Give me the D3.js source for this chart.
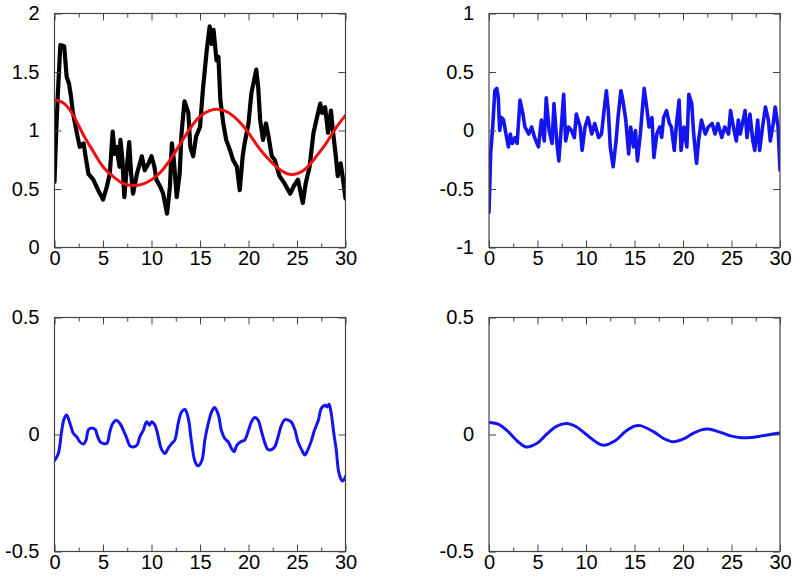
<!DOCTYPE html>
<html>
<head>
<meta charset="utf-8">
<script src="https://cdn.jsdelivr.net/npm/d3@7"></script>
<style>
  body { margin: 0; background: #fff; }
  svg { display: block; }
</style>
</head>
<body>
<svg id="chart" width="800" height="587"></svg>
<script>
// ---------- data ----------
const xTicks = [0, 5, 10, 15, 20, 25, 30];
const xMinorTicks = [2.5, 7.5, 12.5, 17.5, 22.5, 27.5];
const yTicksA = [0, 0.5, 1, 1.5, 2];
const yTicksB = [-1, -0.5, 0, 0.5, 1];
const yTicksC = [-0.5, 0, 0.5];

// Panel A: noisy black series
const blackT = [0,0.17,0.35,0.6,1.0,1.25,1.5,1.7,1.9,2.3,2.6,3.0,3.2,3.5,4.0,4.5,5.0,5.4,5.7,6.0,6.2,6.4,6.7,6.8,7.0,7.2,7.4,7.7,7.9,8.1,8.5,9.0,9.3,9.7,10.0,10.3,10.5,10.9,11.2,11.6,11.9,12.1,12.3,12.6,12.9,13.1,13.4,13.8,14.0,14.3,14.6,15.0,15.3,15.7,16.0,16.2,16.4,16.7,16.9,17.1,17.4,17.7,18.1,18.4,18.8,19.1,19.4,19.6,20.0,20.3,20.8,21.0,21.2,21.5,21.8,22.0,22.4,22.7,23.2,23.7,24.3,24.7,25.1,25.6,25.9,26.3,26.7,27.0,27.4,27.6,27.9,28.2,28.5,28.7,29.0,29.2,29.5,29.7,30];
const blackV = [0.56,0.98,1.32,1.73,1.72,1.46,1.40,1.29,1.15,0.98,0.86,0.89,0.78,0.63,0.58,0.49,0.41,0.52,0.63,0.99,0.80,0.86,0.69,0.92,0.75,0.43,0.63,0.90,0.63,0.46,0.63,0.78,0.66,0.72,0.78,0.69,0.58,0.52,0.46,0.29,0.52,0.89,0.75,0.43,0.63,0.98,1.25,1.15,0.86,0.78,0.95,1.03,1.35,1.69,1.89,1.74,1.86,1.60,1.63,1.26,1.06,0.92,0.83,0.75,0.69,0.49,0.78,0.89,1.06,1.32,1.52,1.37,1.09,0.92,1.06,0.98,0.78,0.75,0.61,0.55,0.46,0.53,0.58,0.38,0.55,0.69,0.98,1.09,1.23,1.15,1.20,0.98,1.17,1.00,0.78,0.61,0.72,0.61,0.42];

// Panel A: smooth red curve
const redT = [0,1,2,3,4,5,6,7,8,9,10,11,12,13,14,15,16,17,18,19,20,21,22,23,24,25,26,27,28,29,30];
const redV = [1.26,1.23,1.12,0.96,0.82,0.69,0.61,0.55,0.53,0.54,0.58,0.65,0.76,0.89,1.02,1.12,1.17,1.18,1.15,1.08,0.98,0.86,0.76,0.68,0.63,0.63,0.68,0.78,0.89,1.02,1.13];

// Panel B: noisy blue series
const blueBT = [0,0.17,0.38,0.6,0.8,0.96,1.1,1.3,1.5,1.75,2.0,2.2,2.4,2.7,2.9,3.2,3.5,3.7,4.1,4.4,4.7,5.1,5.4,5.7,5.9,6.2,6.5,6.7,7.0,7.2,7.4,7.7,7.9,8.2,8.5,8.8,9.0,9.4,9.6,9.9,10.2,10.6,10.9,11.3,11.6,11.9,12.1,12.3,12.5,12.8,13.1,13.3,13.6,13.8,14.1,14.4,14.6,14.9,15.1,15.3,15.6,15.8,16.0,16.3,16.5,16.8,17.0,17.3,17.6,17.8,18.0,18.3,18.6,18.8,19.1,19.3,19.6,19.8,20.1,20.4,20.6,20.9,21.1,21.4,21.6,21.9,22.3,22.6,23.0,23.3,23.6,24.0,24.3,24.7,24.9,25.2,25.5,25.7,25.9,26.4,26.6,26.9,27.2,27.4,27.7,27.9,28.2,28.5,28.8,29.0,29.3,29.5,29.8,30];
const blueBV = [-0.70,-0.20,0.03,0.34,0.36,0.28,0.0,0.11,0.09,-0.03,-0.14,-0.03,-0.11,-0.06,-0.11,0.26,0.14,0.03,-0.03,0.03,-0.06,-0.14,0.09,-0.09,0.28,0.0,-0.11,0.23,-0.11,-0.26,-0.03,0.31,-0.09,0.03,0.0,-0.06,0.14,0.03,-0.17,0.03,0.11,-0.03,0.06,-0.06,-0.03,0.20,0.34,0.17,-0.14,-0.31,-0.09,0.11,0.34,0.26,0.09,-0.20,0.03,-0.14,0.0,-0.26,-0.03,0.17,0.36,0.17,0.03,0.11,-0.23,-0.03,0.03,-0.06,0.11,0.17,0.06,0.03,-0.17,0.03,0.26,-0.17,0.03,-0.14,0.31,0.23,-0.03,-0.28,-0.09,0.09,-0.03,0.03,0.06,-0.03,0.06,-0.06,0.03,-0.03,0.17,0.03,-0.09,0.09,-0.03,0.17,-0.06,0.14,-0.09,-0.17,0.09,-0.17,0.03,0.20,0.09,-0.09,0.06,0.20,0.03,-0.34];

// Panel C: smoothed blue series
const blueCT = [0,0.4,0.75,1.0,1.25,1.6,1.95,2.3,2.6,3.0,3.25,3.5,3.8,4.2,4.4,4.7,5.0,5.4,5.7,6.0,6.4,6.75,7.1,7.4,7.8,8.1,8.5,8.8,9.15,9.5,9.8,10.0,10.35,10.7,11.0,11.4,11.7,12.1,12.4,12.75,13.1,13.45,13.8,14.1,14.5,14.8,15.2,15.5,15.85,16.2,16.5,16.9,17.2,17.55,17.9,18.25,18.5,18.8,19.2,19.6,20.0,20.3,20.65,21.0,21.35,21.7,22.0,22.4,22.7,23.05,23.4,23.75,24.1,24.4,24.8,25.1,25.5,25.8,26.1,26.5,26.8,27.2,27.5,27.9,28.1,28.3,28.5,28.8,29.05,29.3,29.6,29.75,30];
const blueCV = [-0.112,-0.08,0.018,0.068,0.083,0.047,0.004,-0.01,-0.031,-0.041,-0.024,0.021,0.028,0.021,-0.003,-0.031,-0.038,-0.038,0.011,0.047,0.061,0.047,0.018,-0.01,-0.05,-0.053,-0.046,-0.01,0.018,0.054,0.04,0.054,0.04,-0.01,-0.06,-0.081,-0.06,-0.038,-0.024,0.047,0.097,0.107,0.068,-0.024,-0.117,-0.134,-0.11,-0.024,0.047,0.097,0.115,0.083,0.018,-0.017,-0.031,-0.06,-0.074,-0.046,-0.031,-0.024,0.018,0.054,0.073,0.061,0.011,-0.038,-0.064,-0.064,-0.053,-0.01,0.04,0.064,0.061,0.054,0.018,-0.031,-0.067,-0.088,-0.067,-0.024,0.018,0.061,0.111,0.125,0.118,0.129,0.097,0.004,-0.067,-0.16,-0.195,-0.198,-0.18];

// Panel D: damped oscillation
const blueDT = [0,1,2,3,3.8,5,6,7,8,9,10,11,11.8,13,14,15,15.6,17,18,19,20,21,22,22.6,24,25,26,27,28,29,30];
const blueDV = [0.051,0.043,0.011,-0.031,-0.053,-0.036,0.004,0.036,0.047,0.033,0.001,-0.031,-0.046,-0.027,0.011,0.036,0.038,0.011,-0.017,-0.031,-0.02,0.004,0.021,0.023,0.007,-0.007,-0.014,-0.013,-0.007,0.0,0.007];

// ---------- drawing ----------
const svg = d3.select("#chart");
const FONT = '"Liberation Sans", Arial, Helvetica, sans-serif';
const FS = 20;

function panel(opts) {
  const { left, right, top, bottom, yDomain, yTicks, series } = opts;
  const x = d3.scaleLinear().domain([0, 30]).range([left, right]);
  const y = d3.scaleLinear().domain(yDomain).range([bottom, top]);
  const g = svg.append("g");

  const clipId = "clip" + Math.round(left) + "_" + Math.round(top);
  svg.append("clipPath").attr("id", clipId)
    .append("rect").attr("x", left).attr("y", top - 2).attr("width", right - left).attr("height", bottom - top + 4);

  series.forEach(s => {
    const data = s.t.map((t, i) => [t, s.v[i]]);
    g.append("path")
      .datum(data)
      .attr("clip-path", `url(#${clipId})`)
      .attr("fill", "none")
      .attr("stroke", s.color)
      .attr("stroke-width", s.width)
      .attr("stroke-linejoin", "round")
      .attr("stroke-linecap", "round")
      .attr("d", d3.line().x(d => x(d[0])).y(d => y(d[1])).curve(s.curve || d3.curveLinear));
  });

  const axisColor = "#444";
  const style = (sel) => {
    sel.select(".domain").remove();
    sel.selectAll(".tick line").attr("stroke", axisColor).attr("stroke-width", 1);
  };

  g.append("g").attr("transform", `translate(0,${bottom})`)
    .call(d3.axisBottom(x).tickValues(xTicks).tickSize(-7).tickPadding(3).tickFormat(d3.format("d")))
    .call(style)
    .call(s => s.selectAll("text").attr("font-family", FONT).attr("font-size", FS).attr("fill", "#000"));
  g.append("g").attr("transform", `translate(0,${bottom})`)
    .call(d3.axisBottom(x).tickValues(xMinorTicks).tickSize(-4).tickFormat(""))
    .call(style);
  g.append("g").attr("transform", `translate(0,${top})`)
    .call(d3.axisTop(x).tickValues(xTicks).tickSize(-7).tickFormat(""))
    .call(style);
  g.append("g").attr("transform", `translate(0,${top})`)
    .call(d3.axisTop(x).tickValues(xMinorTicks).tickSize(-4).tickFormat(""))
    .call(style);
  g.append("g").attr("transform", `translate(${left},0)`)
    .call(d3.axisLeft(y).tickValues(yTicks).tickSize(-7).tickPadding(15).tickFormat(d => String(d)))
    .call(style)
    .call(s => s.selectAll("text").attr("font-family", FONT).attr("font-size", FS).attr("fill", "#000"));
  g.append("g").attr("transform", `translate(${right},0)`)
    .call(d3.axisRight(y).tickValues(yTicks).tickSize(-7).tickFormat(""))
    .call(style);

  g.append("rect")
    .attr("x", left).attr("y", top)
    .attr("width", right - left).attr("height", bottom - top)
    .attr("fill", "none").attr("stroke", axisColor).attr("stroke-width", 1.2);
}

const L1 = 54.5, R1 = 345.5, L2 = 489, R2 = 780;
const T1 = 13.5, B1 = 247.5, T2 = 317.5, B2 = 551.5;

panel({ left: L1, right: R1, top: T1, bottom: B1, yDomain: [0, 2], yTicks: yTicksA,
  series: [
    { t: blackT, v: blackV, color: "#000", width: 4.2 },
    { t: redT, v: redV, color: "#ee1111", width: 3, curve: d3.curveNatural }
  ]});
panel({ left: L2, right: R2, top: T1, bottom: B1, yDomain: [-1, 1], yTicks: yTicksB,
  series: [ { t: blueBT, v: blueBV, color: "#1414f0", width: 3.6 } ]});
panel({ left: L1, right: R1, top: T2, bottom: B2, yDomain: [-0.5, 0.5], yTicks: yTicksC,
  series: [ { t: blueCT, v: blueCV, color: "#1414f0", width: 3, curve: d3.curveCatmullRom } ]});
panel({ left: L2, right: R2, top: T2, bottom: B2, yDomain: [-0.5, 0.5], yTicks: yTicksC,
  series: [ { t: blueDT, v: blueDV, color: "#1414f0", width: 3, curve: d3.curveCatmullRom } ]});
</script>
</body>
</html>
